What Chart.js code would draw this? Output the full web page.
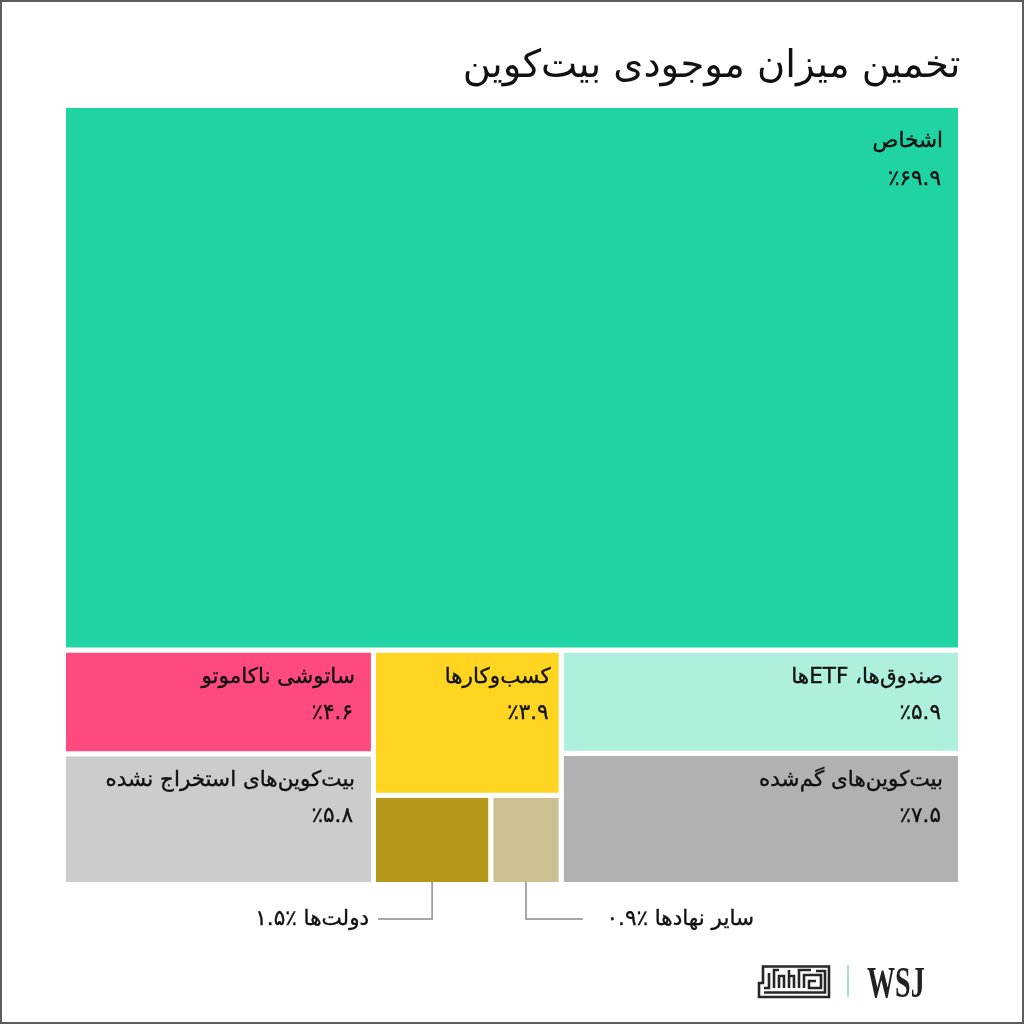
<!DOCTYPE html>
<html lang="fa" dir="rtl">
<head>
<meta charset="utf-8">
<title>تخمین میزان موجودی بیت‌کوین</title>
<script src="https://cdn.jsdelivr.net/npm/chart.js@4"></script>
<style>
  html, body { margin:0; padding:0; background:#fff; }
  #wrap { position:relative; width:1024px; height:1024px; overflow:hidden; }
  #logo { position:absolute; left:756px; top:963px; }
</style>
</head>
<body>
<div id="wrap">
  <canvas id="grafico" width="1024" height="1024"></canvas>
  <svg id="logo" width="76" height="37" viewBox="0 0 76 37" fill="none" stroke="#262626" stroke-width="2.6">
    <path d="M7 3.5H73V34H3V20H7Z"/>
    <path d="M8 29.5H69V8H60M8 25H13V10M18 25V7H23M23 25V13H28V25M33 25V7M33 13H38V25M43 25V7H55M48 25V12H65V25H53V18H60"/>
  </svg>
</div>

<script>
const titulo = "تخمین میزان موجودی بیت‌کوین";

// 0 اشخاص ... 7 سایر نهادها
const rotulos = [
  "اشخاص",
  "ساتوشی ناکاموتو",
  "بیت‌کوین‌های استخراج نشده",
  "کسب‌وکارها",
  "دولت‌ها",
  "سایر نهادها",
  "صندوق‌ها، ETFها",
  "بیت‌کوین‌های گم‌شده"
];
const valores = [69.9, 4.6, 5.8, 3.9, 1.5, 0.9, 5.9, 7.5];
const percentuais = ["٪۶۹.۹", "٪۴.۶", "٪۵.۸", "٪۳.۹", "٪۱.۵", "٪۰.۹", "٪۵.۹", "٪۷.۵"];
const cores = ["#20d3a3", "#ff4a80", "#cccccc", "#ffd522", "#b59819", "#cbc092", "#aeefdd", "#b1b1b1"];

// how the cells nest in the bottom band
const colEsq = [1, 2];
const colDir = [6, 7];
const filaMeio = [4, 5];

function soma(ids){
  return ids.reduce((s, i) => s + valores[i], 0);
}

// treemap layout in value units (x and y both run 0..100)
function montarCelulas(){
  const total = soma(valores.map((v, i) => i));
  const baixo = total - valores[0];
  const cel = [];
  cel[0] = { x0:0, x1:100, y0:baixo, y1:100 };

  let x = 0;
  const empilhar = (ids) => {
    const larg = soma(ids) / baixo * 100;
    let y = baixo;
    ids.forEach(i => {
      const alt = valores[i] / soma(ids) * baixo;
      cel[i] = { x0:x, x1:x + larg, y0:y - alt, y1:y };
      y -= alt;
    });
    x += larg;
  };

  empilhar(colEsq);

  const meio = [3].concat(filaMeio);
  const largMeio = soma(meio) / baixo * 100;
  const altTopo = valores[3] / soma(meio) * baixo;
  cel[3] = { x0:x, x1:x + largMeio, y0:baixo - altTopo, y1:baixo };
  let xf = x;
  filaMeio.forEach(i => {
    const l = valores[i] / soma(filaMeio) * largMeio;
    cel[i] = { x0:xf, x1:xf + l, y0:0, y1:baixo - altTopo };
    xf += l;
  });
  x += largMeio;

  empilhar(colDir);
  return cel;
}

const celulas = montarCelulas();

const conjuntos = celulas.map((c, i) => ({
  label: rotulos[i],
  data: [
    { x:c.x0, y:c.y0 },
    { x:c.x1, y:c.y0 },
    { x:c.x1, y:c.y1 },
    { x:c.x0, y:c.y1 },
    { x:c.x0, y:c.y0 }
  ],
  showLine: true,
  fill: 'shape',
  tension: 0,
  pointRadius: 0,
  backgroundColor: cores[i],
  borderColor: '#fff',
  borderWidth: 5,
  clip: false
}));

// text offsets inside each cell: right inset, first and second baseline
const recuos = [15, 16, 16, 8, 0, 0, 15, 15];
const linha1 = [39, 30, 30, 30, 0, 0, 30, 30];
const linha2 = [77, 66, 66, 66, 0, 0, 66, 66];

function escrever(c, txt, x, y){
  c.fillText(txt, x, y);
  c.strokeText(txt, x, y); // DejaVu has no medium weight
}

const textos = {
  id: 'textos',
  beforeDraw(chart){
    const c = chart.ctx;
    c.save();
    c.fillStyle = '#fff';
    c.fillRect(0, 0, chart.width, chart.height);
    c.restore();
  },
  afterDatasetsDraw(chart){
    const c = chart.ctx;
    const sx = chart.scales.x;
    const sy = chart.scales.y;

    c.save();
    c.direction = 'rtl';
    c.textAlign = 'right';
    c.fillStyle = '#111';
    c.strokeStyle = '#111';
    c.lineWidth = 0.35;
    c.font = '21.5px "DejaVu Sans"';

    [0, 1, 2, 3, 6, 7].forEach(i => {
      const xd = sx.getPixelForValue(celulas[i].x1) - 2.5 - recuos[i];
      const yt = sy.getPixelForValue(celulas[i].y1) + 2.5;
      escrever(c, rotulos[i], xd, yt + linha1[i]);
      escrever(c, percentuais[i], xd - 2, yt + linha2[i]);
    });

    // leader lines for the two small cells
    const base = sy.getPixelForValue(0) - 2.5;
    const yl = base + 37;
    const xa = sx.getPixelForValue((celulas[4].x0 + celulas[4].x1) / 2);
    const xb = sx.getPixelForValue((celulas[5].x0 + celulas[5].x1) / 2);

    c.save();
    c.strokeStyle = '#8c8c8c';
    c.lineWidth = 1.5;
    c.beginPath();
    c.moveTo(xa, base);
    c.lineTo(xa, yl);
    c.lineTo(xa - 54, yl);
    c.moveTo(xb, base);
    c.lineTo(xb, yl);
    c.lineTo(xb + 57, yl);
    c.stroke();
    c.restore();

    escrever(c, rotulos[4] + " " + percentuais[4], xa - 63, yl + 6);
    escrever(c, rotulos[5] + " " + percentuais[5], xb + 228, yl + 6);

    // footer
    c.strokeStyle = '#7fdcc4';
    c.lineWidth = 1.5;
    c.beginPath();
    c.moveTo(848, 965);
    c.lineTo(848, 997);
    c.stroke();

    c.direction = 'ltr';
    c.textAlign = 'left';
    c.fillStyle = '#222';
    c.translate(867, 997);
    c.scale(0.72, 1.15);
    c.font = 'bold 39px "Liberation Serif"';
    c.fillText("WSJ", 0, 0);
    c.restore();

    // frame
    c.save();
    c.strokeStyle = '#5c5c5c';
    c.lineWidth = 2;
    c.strokeRect(1, 1, chart.width - 2, chart.height - 2);
    c.restore();
  }
};

new Chart(document.getElementById("grafico"), {
  type: 'scatter',
  data: { datasets: conjuntos },
  plugins: [textos],
  options: {
    responsive: false,
    animation: false,
    layout: {
      padding: { left:63.5, right:63.5, top:44, bottom:139.5 }
    },
    plugins: {
      legend: { display:false },
      tooltip: { enabled:false },
      title: {
        display: true,
        text: titulo,
        align: 'end',
        color: '#111',
        font: { family:'"DejaVu Sans"', size:38.5, weight:'normal', lineHeight:1.2 },
        padding: { top:0, bottom:15.3 }
      }
    },
    scales: {
      x: { type:'linear', min:0, max:100, display:false },
      y: { type:'linear', min:0, max:100, display:false }
    }
  }
});
</script>
</body>
</html>
